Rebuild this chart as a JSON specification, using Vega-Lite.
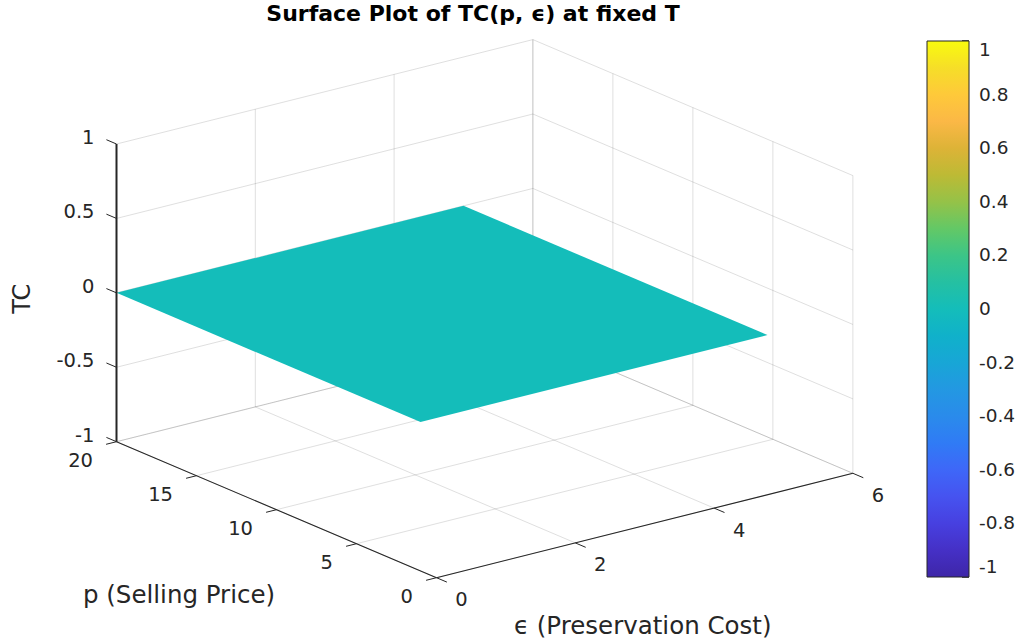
{
  "$schema": "https://vega.github.io/schema/vega-lite/v6.json",
  "width": 1020,
  "height": 640,
  "padding": 0,
  "autosize": {"type": "none"},
  "background": "#ffffff",
  "config": {"view": {"stroke": null}, "font": "DejaVu Sans"},
  "title": {
    "text": "Surface Plot of TC(p, ϵ) at fixed T",
    "font": "DejaVu Sans",
    "fontSize": 22,
    "fontWeight": "bold",
    "color": "#000000",
    "frame": "group",
    "anchor": "middle",
    "orient": "top",
    "offset": -26,
    "dx": -37
  },
  "datasets": {
    "surface": [
      {"p": 1, "eps": 0, "TC": 0, "k": 1},
      {"p": 20, "eps": 0, "TC": 0, "k": 2},
      {"p": 20, "eps": 5, "TC": 0, "k": 3},
      {"p": 1, "eps": 5, "TC": 0, "k": 4}
    ],
    "ticks": [
      {"axis": "TC", "v": -1}, {"axis": "TC", "v": -0.5}, {"axis": "TC", "v": 0}, {"axis": "TC", "v": 0.5}, {"axis": "TC", "v": 1},
      {"axis": "p", "v": 0}, {"axis": "p", "v": 5}, {"axis": "p", "v": 10}, {"axis": "p", "v": 15}, {"axis": "p", "v": 20},
      {"axis": "eps", "v": 0}, {"axis": "eps", "v": 2}, {"axis": "eps", "v": 4}, {"axis": "eps", "v": 6}
    ],
    "axes": [
      {"axis": "TC", "lo": -1, "hi": 1},
      {"axis": "p", "lo": 0, "hi": 20},
      {"axis": "eps", "lo": 0, "hi": 6}
    ],
    "titles": [
      {"axis": "TC", "label": "TC"},
      {"axis": "p", "label": "p (Selling Price)"},
      {"axis": "eps", "label": "ϵ (Preservation Cost)"}
    ],
    "cbar": [
      {"v": -1}, {"v": -0.8}, {"v": -0.6}, {"v": -0.4}, {"v": -0.2}, {"v": 0},
      {"v": 0.2}, {"v": 0.4}, {"v": 0.6}, {"v": 0.8}, {"v": 1}
    ]
  },
  "encoding": {
    "x": {"field": "X", "type": "quantitative", "scale": {"domain": [0, 1020], "nice": false, "zero": false}, "axis": null},
    "y": {"field": "Y", "type": "quantitative", "scale": {"domain": [0, 640], "reverse": true, "nice": false, "zero": false}, "axis": null}
  },
  "layer": [
    {
      "data": {"name": "ticks"},
      "transform": [
        {"calculate": "datum.axis==='TC' ? 20 : datum.axis==='p' ? datum.v : 0", "as": "p1"},
        {"calculate": "datum.axis==='eps' ? datum.v : 0", "as": "e1"},
        {"calculate": "datum.axis==='TC' ? datum.v : -1", "as": "t1"},
        {"calculate": "datum.axis==='p' ? datum.v : 20", "as": "p2"},
        {"calculate": "datum.axis==='eps' ? datum.v : 6", "as": "e2"},
        {"calculate": "datum.axis==='TC' ? datum.v : -1", "as": "t2"},
        {"calculate": "436.5 - 16.0*datum.p1 + 69.4*datum.e1", "as": "X"},
        {"calculate": "577.7 - 6.8*datum.p1 - 17.4*datum.e1 - 148.85*(datum.t1+1)", "as": "Y"},
        {"calculate": "436.5 - 16.0*datum.p2 + 69.4*datum.e2", "as": "X2"},
        {"calculate": "577.7 - 6.8*datum.p2 - 17.4*datum.e2 - 148.85*(datum.t2+1)", "as": "Y2"}
      ],
      "mark": {"type": "rule", "stroke": "#262626", "strokeOpacity": 0.15, "strokeWidth": 1},
      "encoding": {"x2": {"field": "X2"}, "y2": {"field": "Y2"}}
    },
    {
      "data": {"name": "ticks"},
      "transform": [
        {"calculate": "datum.axis==='TC' ? 0 : datum.axis==='p' ? datum.v : 20", "as": "p1"},
        {"calculate": "datum.axis==='eps' ? datum.v : 6", "as": "e1"},
        {"calculate": "datum.axis==='TC' ? datum.v : -1", "as": "t1"},
        {"calculate": "datum.axis==='p' ? datum.v : 20", "as": "p2"},
        {"calculate": "datum.axis==='eps' ? datum.v : 6", "as": "e2"},
        {"calculate": "datum.axis==='TC' ? datum.v : 1", "as": "t2"},
        {"calculate": "436.5 - 16.0*datum.p1 + 69.4*datum.e1", "as": "X"},
        {"calculate": "577.7 - 6.8*datum.p1 - 17.4*datum.e1 - 148.85*(datum.t1+1)", "as": "Y"},
        {"calculate": "436.5 - 16.0*datum.p2 + 69.4*datum.e2", "as": "X2"},
        {"calculate": "577.7 - 6.8*datum.p2 - 17.4*datum.e2 - 148.85*(datum.t2+1)", "as": "Y2"}
      ],
      "mark": {"type": "rule", "stroke": "#262626", "strokeOpacity": 0.15, "strokeWidth": 1},
      "encoding": {"x2": {"field": "X2"}, "y2": {"field": "Y2"}}
    },
    {
      "data": {"name": "surface"},
      "transform": [
        {"calculate": "436.5 - 16.0*datum.p + 69.4*datum.eps", "as": "X"},
        {"calculate": "577.7 - 6.8*datum.p - 17.4*datum.eps - 148.85*(datum.TC+1)", "as": "Y"}
      ],
      "mark": {"type": "line", "interpolate": "linear-closed", "strokeOpacity": 0, "strokeWidth": 0},
      "encoding": {
        "order": {"field": "k", "type": "quantitative"},
        "fill": {
          "field": "TC",
          "type": "quantitative",
          "scale": {
            "type": "linear",
            "domain": [-1, -0.9, -0.8, -0.7, -0.6, -0.5, -0.4, -0.3, -0.2, -0.1, 0, 0.1, 0.2, 0.3, 0.4, 0.5, 0.6, 0.7, 0.8, 0.9, 1],
            "range": ["#3E26A8", "#4530C6", "#4740E0", "#4653F0", "#3E67F8", "#307BF5", "#2A8BEB", "#2398E2", "#18A6D6", "#10B1CA", "#14BDBA", "#25C0A2", "#3CC587", "#63C866", "#95C248", "#BDBA35", "#DDB337", "#FBB846", "#FEC93A", "#F6DE28", "#F9FB0E"],
            "nice": false,
            "zero": false
          },
          "legend": {
            "type": "gradient",
            "orient": "none",
            "legendX": 927,
            "legendY": 41,
            "padding": 0,
            "direction": "vertical",
            "title": null,
            "gradientLength": 536,
            "gradientThickness": 42,
            "gradientStrokeColor": "#262626",
            "gradientStrokeWidth": 1,
            "values": [-1, -0.8, -0.6, -0.4, -0.2, 0, 0.2, 0.4, 0.6, 0.8, 1],
            "labelExpr": "datum.value + ''",
            "labelFont": "DejaVu Sans",
            "labelFontSize": 18.5,
            "labelColor": "#262626",
            "labelOffset": 10,
            "labelBaseline": "middle",
            "labelOverlap": false
          }
        }
      }
    },
    {
      "data": {"name": "axes"},
      "transform": [
        {"calculate": "datum.axis==='TC' ? 20 : datum.axis==='p' ? datum.lo : 0", "as": "p1"},
        {"calculate": "datum.axis==='eps' ? datum.lo : 0", "as": "e1"},
        {"calculate": "datum.axis==='TC' ? datum.lo : -1", "as": "t1"},
        {"calculate": "datum.axis==='TC' ? 20 : datum.axis==='p' ? datum.hi : 0", "as": "p2"},
        {"calculate": "datum.axis==='eps' ? datum.hi : 0", "as": "e2"},
        {"calculate": "datum.axis==='TC' ? datum.hi : -1", "as": "t2"},
        {"calculate": "436.5 - 16.0*datum.p1 + 69.4*datum.e1", "as": "X"},
        {"calculate": "577.7 - 6.8*datum.p1 - 17.4*datum.e1 - 148.85*(datum.t1+1)", "as": "Y"},
        {"calculate": "436.5 - 16.0*datum.p2 + 69.4*datum.e2", "as": "X2"},
        {"calculate": "577.7 - 6.8*datum.p2 - 17.4*datum.e2 - 148.85*(datum.t2+1)", "as": "Y2"}
      ],
      "mark": {"type": "rule", "stroke": "#262626"},
      "encoding": {
        "x2": {"field": "X2"},
        "y2": {"field": "Y2"},
        "strokeWidth": {"condition": {"test": "datum.axis === 'TC'", "value": 2}, "value": 1.1}
      }
    },
    {
      "data": {"name": "ticks"},
      "transform": [
        {"calculate": "datum.axis==='TC' ? 20 : datum.axis==='p' ? datum.v : 0", "as": "p1"},
        {"calculate": "datum.axis==='eps' ? datum.v : 0", "as": "e1"},
        {"calculate": "datum.axis==='TC' ? datum.v : -1", "as": "t1"},
        {"calculate": "datum.axis==='TC' ? 20.63 : datum.axis==='p' ? datum.v : -0.65", "as": "p2"},
        {"calculate": "datum.axis==='eps' ? datum.v : datum.axis==='p' ? -0.15 : 0", "as": "e2"},
        {"calculate": "datum.axis==='TC' ? datum.v : -1", "as": "t2"},
        {"calculate": "436.5 - 16.0*datum.p1 + 69.4*datum.e1", "as": "X"},
        {"calculate": "577.7 - 6.8*datum.p1 - 17.4*datum.e1 - 148.85*(datum.t1+1)", "as": "Y"},
        {"calculate": "436.5 - 16.0*datum.p2 + 69.4*datum.e2", "as": "X2"},
        {"calculate": "577.7 - 6.8*datum.p2 - 17.4*datum.e2 - 148.85*(datum.t2+1)", "as": "Y2"}
      ],
      "mark": {"type": "rule", "stroke": "#262626", "strokeWidth": 1},
      "encoding": {"x2": {"field": "X2"}, "y2": {"field": "Y2"}}
    },
    {
      "data": {"name": "ticks"},
      "transform": [
        {"filter": "datum.axis === 'TC'"},
        {"calculate": "datum.v + ''", "as": "lab"},
        {"calculate": "436.5 - 16.0*20", "as": "X"},
        {"calculate": "577.7 - 6.8*20 - 148.85*(datum.v+1)", "as": "Y"}
      ],
      "mark": {"type": "text", "align": "right", "baseline": "middle", "dx": -22, "dy": -6, "font": "DejaVu Sans", "fontSize": 19.5, "color": "#262626"},
      "encoding": {"text": {"field": "lab"}}
    },
    {
      "data": {"name": "ticks"},
      "transform": [
        {"filter": "datum.axis === 'p'"},
        {"calculate": "datum.v + ''", "as": "lab"},
        {"calculate": "436.5 - 16.0*datum.v", "as": "X"},
        {"calculate": "577.7 - 6.8*datum.v", "as": "Y"}
      ],
      "mark": {"type": "text", "align": "right", "baseline": "middle", "dx": -23.5, "dy": 19.5, "font": "DejaVu Sans", "fontSize": 19.5, "color": "#262626"},
      "encoding": {"text": {"field": "lab"}}
    },
    {
      "data": {"name": "ticks"},
      "transform": [
        {"filter": "datum.axis === 'eps'"},
        {"calculate": "datum.v + ''", "as": "lab"},
        {"calculate": "436.5 + 69.4*datum.v", "as": "X"},
        {"calculate": "577.7 - 17.4*datum.v", "as": "Y"}
      ],
      "mark": {"type": "text", "align": "center", "baseline": "middle", "dx": 25, "dy": 22.5, "font": "DejaVu Sans", "fontSize": 19.5, "color": "#262626"},
      "encoding": {"text": {"field": "lab"}}
    },
    {
      "data": {"name": "titles"},
      "transform": [
        {"filter": "datum.axis === 'TC'"},
        {"calculate": "436.5 - 16.0*20", "as": "X"},
        {"calculate": "577.7 - 6.8*20 - 148.85*(0+1)", "as": "Y"}
      ],
      "mark": {"type": "text", "align": "center", "baseline": "middle", "angle": 270, "dx": -6, "dy": -94, "font": "DejaVu Sans", "fontSize": 24, "color": "#262626"},
      "encoding": {"text": {"field": "label"}}
    },
    {
      "data": {"name": "titles"},
      "transform": [
        {"filter": "datum.axis === 'p'"},
        {"calculate": "436.5 - 16.0*10", "as": "X"},
        {"calculate": "577.7 - 6.8*10", "as": "Y"}
      ],
      "mark": {"type": "text", "align": "center", "baseline": "middle", "dx": -97.5, "dy": 86.5, "font": "DejaVu Sans", "fontSize": 24.5, "color": "#262626"},
      "encoding": {"text": {"field": "label"}}
    },
    {
      "data": {"name": "titles"},
      "transform": [
        {"filter": "datum.axis === 'eps'"},
        {"calculate": "436.5 + 69.4*3", "as": "X"},
        {"calculate": "577.7 - 17.4*3", "as": "Y"}
      ],
      "mark": {"type": "text", "align": "center", "baseline": "middle", "dx": -2, "dy": 101, "font": "DejaVu Sans", "fontSize": 24.5, "color": "#262626"},
      "encoding": {"text": {"field": "label"}}
    },
    {
      "data": {"name": "cbar"},
      "transform": [
        {"calculate": "962", "as": "X"},
        {"calculate": "969", "as": "X2"},
        {"calculate": "41 + (1 - datum.v) * 268", "as": "Y"}
      ],
      "mark": {"type": "rule", "stroke": "#262626", "strokeWidth": 1.5},
      "encoding": {"x2": {"field": "X2"}}
    }
  ]
}
